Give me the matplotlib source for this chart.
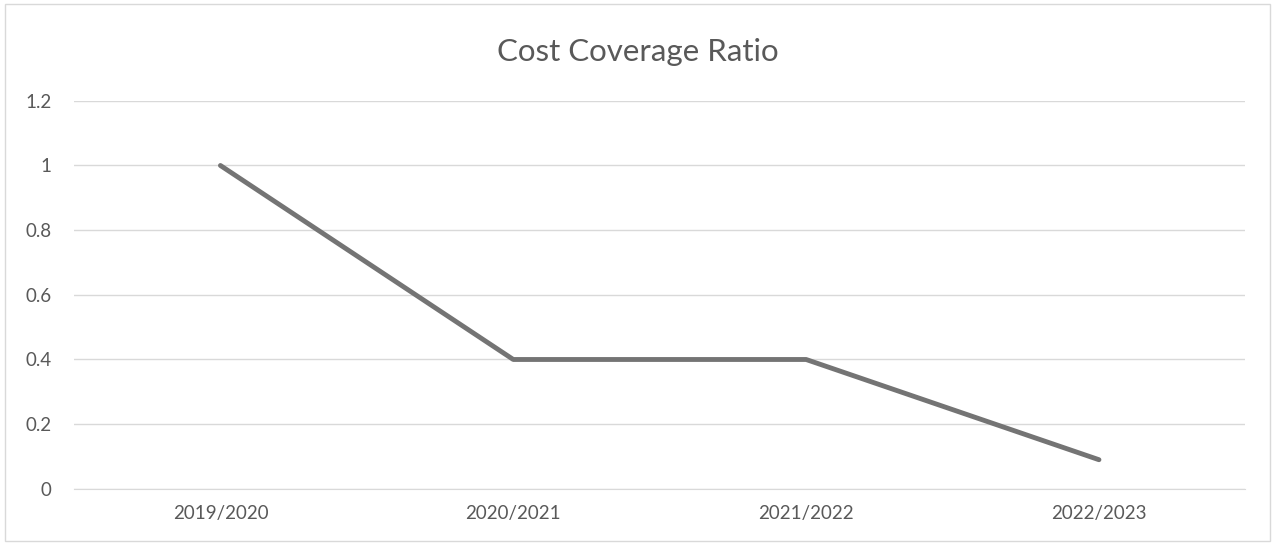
import matplotlib.pyplot as plt
from matplotlib.patches import Rectangle

years = ['2019/2020', '2020/2021', '2021/2022', '2022/2023']
ratio = [1.0, 0.4, 0.4, 0.09]
yticks = [0, 0.2, 0.4, 0.6, 0.8, 1, 1.2]
ytick_labels = ['0', '0.2', '0.4', '0.6', '0.8', '1', '1.2']

plt.rcParams['font.family'] = ['Lato', 'DejaVu Sans']

fig = plt.figure(figsize=(12.76, 5.48), dpi=100)
ax = fig.add_axes([0.058, 0.108, 0.918, 0.708])

x = list(range(len(years)))
ax.plot(x, ratio, color='#747474', linewidth=3.5, solid_capstyle='round', zorder=3)

ax.set_xlim(-0.5, len(years) - 0.5)
ax.set_ylim(0, 1.2)
ax.set_yticks(yticks)
ax.set_yticklabels(ytick_labels)
ax.set_xticks(x)
ax.set_xticklabels(years)
ax.tick_params(axis='both', length=0, labelsize=13.5, labelcolor='#595959')
ax.tick_params(axis='y', pad=16)
ax.tick_params(axis='x', pad=12)

ax.grid(axis='y', color='#d9d9d9', linewidth=1)
ax.set_axisbelow(True)
for side in ['top', 'right', 'left']:
    ax.spines[side].set_visible(False)
ax.spines['bottom'].set_color('#d9d9d9')

fig.text(0.5, 0.905, 'Cost Coverage Ratio', ha='center', va='center',
         fontsize=22.5, color='#595959')

# light frame round the chart area
fig.patches.append(Rectangle((0.004, 0.012), 0.991, 0.98, transform=fig.transFigure,
                             fill=False, edgecolor='#d9d9d9', linewidth=1))

fig.savefig('out.png', dpi=100)
